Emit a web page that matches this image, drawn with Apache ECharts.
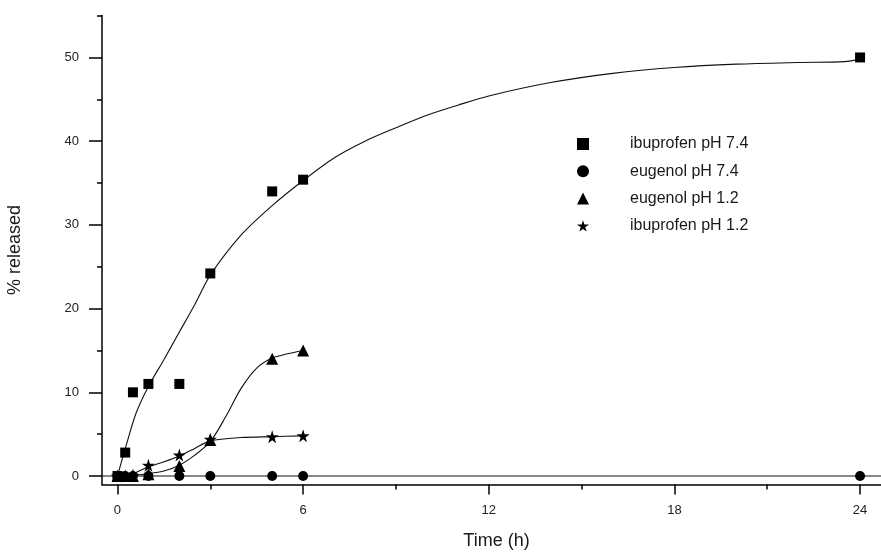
<!DOCTYPE html>
<html>
<head>
<meta charset="utf-8">
<script src="https://cdn.jsdelivr.net/npm/echarts@6/dist/echarts.min.js"></script>
<style>
html,body{margin:0;padding:0;background:#fff;}
#chart{width:881px;height:554px;}
</style>
</head>
<body>
<div id="chart"></div>
<script>
// ---- data ----
const times = [0, 0.25, 0.5, 1, 2, 3, 5, 6, 24];
const ibuprofen74 = [0, 2.8, 10, 11, 11, 24.2, 34, 35.4, 50];
const eugenol74 = [0, 0, 0, 0, 0, 0, 0, 0, 0];
const timesAcid = [0, 0.25, 0.5, 1, 2, 3, 5, 6];
const eugenol12 = [0, 0, 0, 0.2, 1.2, 4.3, 14.0, 15.0];
const ibuprofen12 = [0, 0, 0.1, 1.3, 2.5, 4.4, 4.7, 4.8];

// fitted curves
const fitIbu74T = [0, 0.3, 0.6, 1, 1.5, 2, 2.5, 3, 4, 5, 6, 7, 8, 9, 10, 11, 12, 14, 16, 18, 20, 22, 23.5, 24];
const fitIbu74V = [0, 3.9, 7.5, 10.7, 13.9, 17.2, 20.5, 24.0, 28.8, 32.3, 35.3, 38.0, 40.0, 41.6, 43.1, 44.3, 45.4, 47.0, 48.1, 48.8, 49.2, 49.4, 49.5, 49.8];
const fitEug12T = [0, 0.5, 1, 1.5, 2, 2.5, 3, 3.5, 4, 4.5, 5, 5.5, 6];
const fitEug12V = [0, 0.05, 0.3, 0.6, 1.3, 2.5, 4.1, 7.1, 10.5, 12.9, 14.1, 14.6, 15.0];
const fitIbu12T = [0, 0.5, 1, 1.5, 2, 2.5, 3, 4, 5, 6];
const fitIbu12V = [0, 0.3, 1.1, 1.7, 2.4, 3.3, 4.2, 4.6, 4.7, 4.8];
const fitEug74T = [-0.5, 25];
const fitEug74V = [0, 0];

const xMajor = [0, 6, 12, 18, 24];
const xMinor = [3, 9, 15, 21];
const yMajor = [0, 10, 20, 30, 40, 50];
const yMinor = [5, 15, 25, 35, 45, 55];

const names = ['ibuprofen pH 7.4', 'eugenol pH 7.4', 'eugenol pH 1.2', 'ibuprofen pH 1.2'];

const pair = (xs, ys) => xs.map((x, i) => [x, ys[i]]);
const STAR = 'path://M50,0 L61,35 L98,35 L68,57 L79,91 L50,70 L21,91 L32,57 L2,35 L39,35 Z';
const FONT = '"Liberation Sans", Arial, sans-serif';
const INK = '#000';

function fitSeries(xs, ys) {
  return {
    type: 'line', data: pair(xs, ys), smooth: 0.3, showSymbol: false, symbol: 'none',
    lineStyle: { color: '#111', width: 1.1 }, silent: true, z: 2, legendHoverLink: false
  };
}
function markSeries(name, xs, ys, symbol, size) {
  return {
    name: name, type: 'line', data: pair(xs, ys), symbol: symbol, symbolSize: size,
    lineStyle: { width: 0, opacity: 0 }, itemStyle: { color: INK, borderWidth: 0 }, z: 5
  };
}

const chart = echarts.init(document.getElementById('chart'), null, { renderer: 'canvas' });
chart.setOption({
  animation: false,
  backgroundColor: '#fff',
  textStyle: { fontFamily: FONT },
  grid: { left: 102, top: 15.6, width: 789, height: 468.8, containLabel: false, outerBoundsMode: 'none' },
  legend: {
    orient: 'vertical', left: 572, top: 131,
    itemWidth: 12, itemHeight: 12, itemGap: 11.3,
    data: [
      { name: names[0], icon: 'rect' },
      { name: names[1], icon: 'circle' },
      { name: names[2], icon: 'triangle' },
      { name: names[3], icon: STAR }
    ],
    textStyle: { fontFamily: FONT, fontSize: 16, color: '#1a1a1a', lineHeight: 16, padding: [0, 0, 0, 36] },
    itemStyle: { color: INK }
  },
  xAxis: [
    {
      type: 'value', min: -0.5, max: 25, position: 'bottom',
      axisLine: { show: true, onZero: false, lineStyle: { color: INK, width: 1.5 } },
      axisTick: { show: true, customValues: xMajor, length: 10, lineStyle: { color: INK, width: 1.5 } },
      axisLabel: { customValues: xMajor, margin: 20, fontSize: 13, color: '#222', fontFamily: FONT },
      splitLine: { show: false },
      name: 'Time (h)', nameLocation: 'middle', nameGap: 48,
      nameTextStyle: { fontSize: 18, color: '#1a1a1a', fontFamily: FONT }
    },
    {
      type: 'value', min: -0.5, max: 25, position: 'bottom',
      axisLine: { show: false, onZero: false },
      axisTick: { show: true, customValues: xMinor, length: 5, lineStyle: { color: INK, width: 1.5 } },
      axisLabel: { show: false }, splitLine: { show: false }
    }
  ],
  yAxis: [
    {
      type: 'value', min: -1, max: 55, position: 'left',
      axisLine: { show: true, onZero: false, lineStyle: { color: INK, width: 1.5 } },
      axisTick: { show: true, customValues: yMajor, length: 13, lineStyle: { color: INK, width: 1.5 } },
      axisLabel: { customValues: yMajor, margin: 23, fontSize: 13, color: '#222', fontFamily: FONT },
      splitLine: { show: false },
      name: '% released', nameLocation: 'middle', nameGap: 78, nameRotate: 90,
      nameTextStyle: { fontSize: 18, color: '#1a1a1a', fontFamily: FONT }
    },
    {
      type: 'value', min: -1, max: 55, position: 'left',
      axisLine: { show: false, onZero: false },
      axisTick: { show: true, customValues: yMinor, length: 5, lineStyle: { color: INK, width: 1.5 } },
      axisLabel: { show: false }, splitLine: { show: false }
    }
  ],
  series: [
    fitSeries(fitEug74T, fitEug74V),
    fitSeries(fitIbu74T, fitIbu74V),
    fitSeries(fitEug12T, fitEug12V),
    fitSeries(fitIbu12T, fitIbu12V),
    markSeries(names[0], times, ibuprofen74, 'rect', 10),
    markSeries(names[1], times, eugenol74, 'circle', 10),
    markSeries(names[2], timesAcid, eugenol12, 'triangle', 12),
    markSeries(names[3], timesAcid, ibuprofen12, STAR, 13)
  ]
});
</script>
</body>
</html>
